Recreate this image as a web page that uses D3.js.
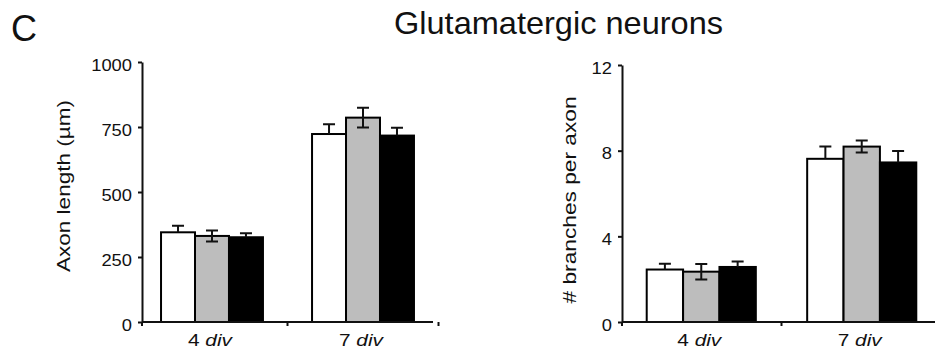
<!DOCTYPE html>
<html lang="en">
<head>
    <meta charset="utf-8">
    <title>Glutamatergic neurons</title>
    <style>
    html, body {
        margin: 0;
        padding: 0;
        background-color: #fff;
    }
    svg text {
        font-family: "Liberation Sans", Arial, sans-serif;
        fill: #111;
    }
    .axis path, .axis line {
        stroke: #111;
        stroke-width: 2;
    }
    .bar {
        stroke: #000;
        stroke-width: 2;
    }
    .err {
        stroke: #111;
        stroke-width: 2;
        fill: none;
    }
    </style>
</head>
<body>
    <div id="Graph"></div>
    <script src="https://d3js.org/d3.v7.min.js"></script>
    <script>
    var w = 935;
    var h = 354;

    // data
    var groups = ["4", "7"];            // days in vitro
    var conditions = ["cond1", "cond2", "cond3"];
    var axonLength = [[345, 331, 326], [723, 786, 717]];
    var axonLengthErr = [[25, 21, 15], [38, 38, 30]];
    var branches = [[2.45, 2.35, 2.57], [7.62, 8.19, 7.45]];
    var branchesErr = [[0.27, 0.36, 0.25], [0.57, 0.28, 0.54]];
    var axonTicks = [0, 250, 500, 750, 1000];
    var branchTicks = [0, 4, 8, 12];

    var fills = ["#fff", "#bdbdbd", "#000"];
    var errBoth = [false, true, false];

    var svg = d3.select("#Graph").append("svg").attr("width", w).attr("height", h);

    // panel letter and title
    svg.append("text").attr("x", 11).attr("y", 41).attr("font-size", "36px").text("C");
    svg.append("text").attr("x", 394).attr("y", 33.5).attr("font-size", "30.5px")
        .attr("textLength", 329).attr("lengthAdjust", "spacingAndGlyphs")
        .text("Glutamatergic neurons");

    function panel(opt) {
        var x0 = d3.scaleBand().domain(groups).range(opt.xr)
            .paddingInner(opt.pi).paddingOuter(opt.po);
        var x1 = d3.scaleBand().domain(conditions).range([0, x0.bandwidth()]);
        var y = d3.scaleLinear().domain([0, opt.max]).range([322, opt.top]);

        var g = svg.append("g");

        // bars
        opt.values.forEach(function(row, gi) {
            g.selectAll(null)
                .data(row)
                .enter()
                .append("rect")
                .attr("class", "bar")
                .attr("x", function(d, i) { return x0(groups[gi]) + x1(conditions[i]); })
                .attr("y", function(d) { return y(d); })
                .attr("width", x1.bandwidth())
                .attr("height", function(d) { return y(0) - y(d); })
                .attr("fill", function(d, i) { return fills[i]; });

            // error bars
            row.forEach(function(v, i) {
                var cx = x0(groups[gi]) + x1(conditions[i]) + x1.bandwidth() / 2;
                var e = opt.errs[gi][i];
                var hi = y(v + e), lo = errBoth[i] ? y(v - e) : y(v);
                g.append("path").attr("class", "err")
                    .attr("d", "M" + cx + "," + lo + "V" + hi +
                        "M" + (cx - 6) + "," + hi + "H" + (cx + 6) +
                        (errBoth[i] ? "M" + (cx - 6) + "," + lo + "H" + (cx + 6) : ""));
            });
        });

        // y-axis
        var ya = g.append("g")
            .attr("class", "axis")
            .attr("transform", "translate(" + opt.xr[0] + ",0)")
            .call(d3.axisLeft(y).tickValues(opt.ticks).tickFormat(d3.format("d"))
                .tickSize(4).tickSizeOuter(0).tickPadding(6));
        ya.selectAll("text")
            .attr("font-size", "16px")
            .attr("dy", "0.5em")
            .attr("textLength", function(d) { return String(d).length * 10.2; })
            .attr("lengthAdjust", "spacingAndGlyphs");

        // x-axis line with ticks between groups
        var step = x0.step();
        var seps = [opt.xr[0]];
        groups.forEach(function(gr) { seps.push(x0(gr) + x0.bandwidth() + step * opt.pi / 2); });
        var xa = g.append("g").attr("class", "axis");
        xa.append("line").attr("x1", opt.xr[0]).attr("x2", opt.xr[1]).attr("y1", y(0)).attr("y2", y(0));
        xa.selectAll(".sep").data(seps).enter().append("line")
            .attr("x1", function(d) { return d; }).attr("x2", function(d) { return d; })
            .attr("y1", y(0)).attr("y2", y(0) + 4);

        // group labels
        var lab = g.selectAll(".glab").data(groups).enter().append("text")
            .attr("x", function(d) { return x0(d) + x0.bandwidth() / 2 - 2; })
            .attr("y", 346)
            .attr("text-anchor", "middle")
            .attr("font-size", "17px")
            .attr("textLength", 44)
            .attr("lengthAdjust", "spacingAndGlyphs");
        lab.append("tspan").text(function(d) { return d + " "; });
        lab.append("tspan").attr("font-style", "italic").text("div");

        // y-axis label
        g.append("text")
            .attr("transform", "translate(" + opt.lx + "," + opt.ly + ") rotate(-90)")
            .attr("text-anchor", "middle")
            .attr("font-size", "18px")
            .attr("textLength", opt.ll)
            .attr("lengthAdjust", "spacingAndGlyphs")
            .text(opt.label);
    }

    panel({xr: [142, 433], pi: 0.325, po: 0.126, max: 1000, top: 62,
        values: axonLength, errs: axonLengthErr, ticks: axonTicks,
        label: "Axon length (\u00b5m)", lx: 70, ly: 186, ll: 172});

    panel({xr: [622, 941], pi: 0.32, po: 0.154, max: 12, top: 65,
        values: branches, errs: branchesErr, ticks: branchTicks,
        label: "# branches per axon", lx: 576, ly: 200, ll: 207});
    </script>
</body>
</html>
